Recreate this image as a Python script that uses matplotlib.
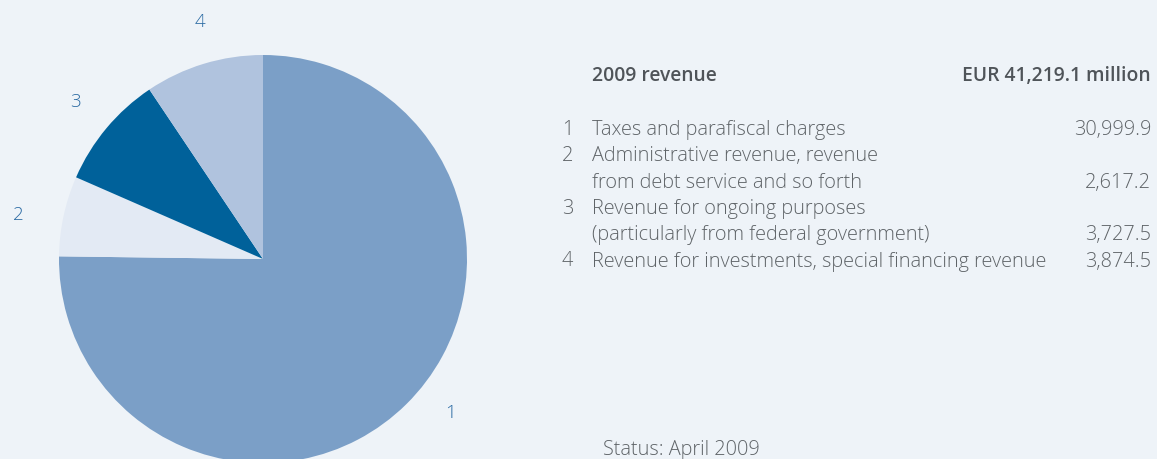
import numpy as np
import matplotlib.pyplot as plt

# data
labels = ["1", "2", "3", "4"]
values = [30999.9, 2617.2, 3727.5, 3874.5]
colors = ["#7b9fc7", "#e3eaf4", "#00619a", "#b0c3de"]

rows = [
    ("1", "Taxes and parafiscal charges", "30,999.9"),
    ("2", "Administrative revenue, revenue", ""),
    ("", "from debt service and so forth", "2,617.2"),
    ("3", "Revenue for ongoing purposes", ""),
    ("", "(particularly from federal government)", "3,727.5"),
    ("4", "Revenue for investments, special financing revenue", "3,874.5"),
]

bg = "#eef3f8"
txt = "#5f6468"
blue = "#2a6aa3"

plt.rcParams['font.family'] = ['Open Sans', 'DejaVu Sans']

fig = plt.figure(figsize=(11.57, 4.59), dpi=100, facecolor=bg)

# pie axes (square in pixels)
ax = fig.add_axes([59 / 1157, -4 / 459, 408 / 1157, 408 / 459])
ax.set_facecolor(bg)
wedges, texts = ax.pie(values, labels=labels, colors=colors, startangle=90,
                       counterclock=False, radius=1, labeldistance=1.2,
                       textprops=dict(color=blue, fontsize=13.5, fontweight='light'),
                       wedgeprops=dict(linewidth=0))
# label placement tweaks (angle offset in degrees, distance)
tweaks = [(6, 1.19), (2, 1.22), (0, 1.2), (-2, 1.2)]
for w, t, (da, d) in zip(wedges, texts, tweaks):
    ang = np.deg2rad((w.theta1 + w.theta2) / 2 + da)
    t.set_position((d * np.cos(ang), d * np.sin(ang)))
    t.set_ha('center')
    t.set_va('center')
    t.set_clip_on(False)
ax.set_xlim(-1, 1)
ax.set_ylim(-1, 1)
ax.set_aspect('auto')
ax.axis('off')
for w in wedges:
    w.set_clip_on(False)

# legend table
def fx(px):
    return px / 1157

def fy(py):
    return 1 - py / 459

fs = 14.3
fig.text(fx(592), fy(76), "2009 revenue", fontsize=13.9, fontweight='semibold',
         color="#4f5459", va='center', ha='left')
fig.text(fx(1151), fy(76), "EUR 41,219.1 million", fontsize=13.9, fontweight='semibold',
         color="#4f5459", va='center', ha='right')

y0 = 130
step = 26.3
for i, (num, desc, val) in enumerate(rows):
    y = fy(y0 + i * step)
    if num:
        fig.text(fx(573), y, num, fontsize=fs, fontweight='light', color=txt,
                 va='center', ha='right')
    fig.text(fx(592), y, desc, fontsize=fs, fontweight='light', color=txt,
             va='center', ha='left')
    if val:
        fig.text(fx(1151), y, val, fontsize=fs, fontweight='light', color=txt,
                 va='center', ha='right')

fig.text(fx(603), fy(450), "Status: April 2009", fontsize=fs, fontweight='light',
         color=txt, va='center', ha='left')

fig.savefig("out.png", dpi=100, facecolor=bg)
